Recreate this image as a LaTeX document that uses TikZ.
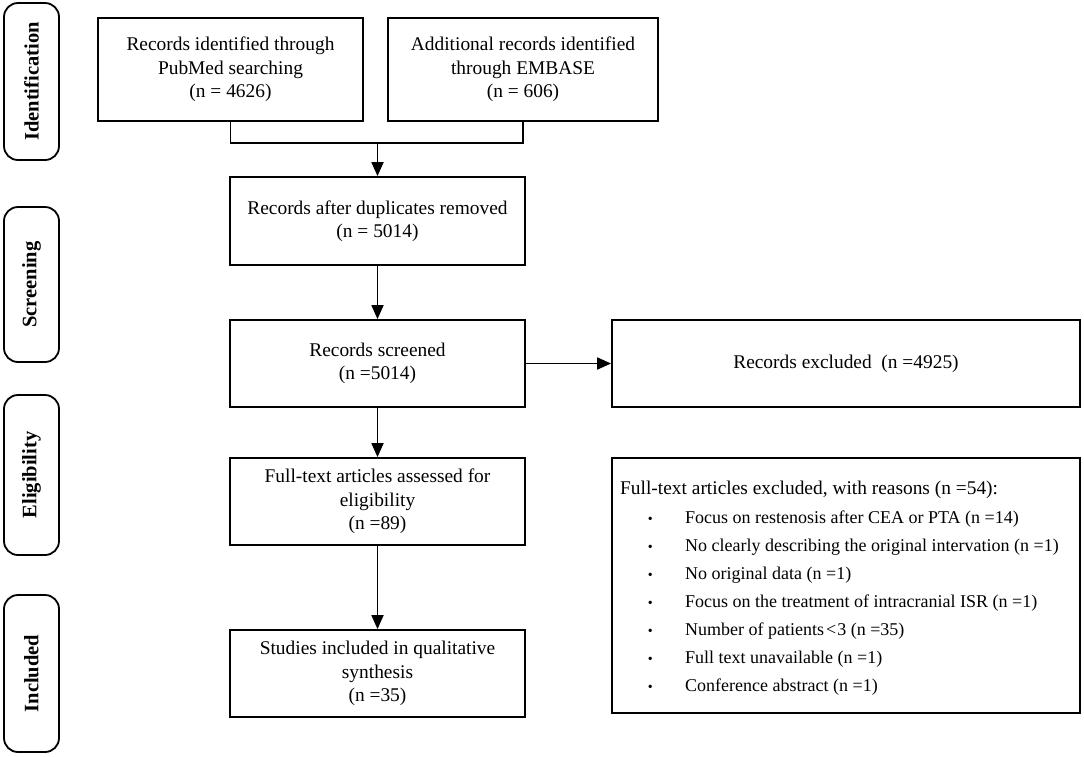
\documentclass[tikz,border=0pt]{standalone}
\usepackage{fontspec}
\setmainfont{Liberation Serif}
\usetikzlibrary{arrows.meta}
\begin{document}
\begin{tikzpicture}[x=1pt,y=-1pt,
  box/.style={draw, line width=1.8pt, rectangle, align=center, inner sep=0pt,
    font=\fontsize{19.4}{23.5}\selectfont},
  phase/.style={draw, line width=1.8pt, rounded corners=14pt, inner sep=0pt,
    minimum height=55pt, font=\bfseries\fontsize{20.5}{23}\selectfont, rotate=90},
  arr/.style={line width=1.8pt, -{Triangle[length=14pt,width=12pt]}},
  ln/.style={line width=1.8pt},
  item/.style={anchor=base west, inner sep=0pt, font=\fontsize{18}{22}\selectfont}]
\useasboundingbox (0,0) rectangle (1084,756);
% phase labels
\node[phase, minimum width=157pt] (pid) at (31.5,81.5) {Identification};
\node[phase, minimum width=155pt] (psc) at (31.5,284.5) {Screening};
\node[phase, minimum width=160pt] (pel) at (31.5,475) {Eligibility};
\node[phase, minimum width=157pt] (pin) at (31.5,673.5) {Included};
% boxes
\node[box, minimum width=265pt, minimum height=103pt] (b1) at (230.5,69.5)
  {Records identified through\\PubMed searching\\(n = 4626)};
\node[box, minimum width=270pt, minimum height=103pt] (b2) at (523,69.5)
  {Additional records identified\\through EMBASE\\(n = 606)};
\node[box, minimum width=295pt, minimum height=88pt] (b3) at (377.5,221)
  {Records after duplicates removed\\(n = 5014)};
\node[box, minimum width=295pt, minimum height=87pt] (b4) at (377.5,363.5)
  {Records screened\\(n =5014)};
\node[box, minimum width=468pt, minimum height=87pt] (b5) at (846,363.5)
  {Records excluded\ \ (n =4925)};
\node[box, minimum width=295pt, minimum height=87pt] (b6) at (377.5,501.5)
  {Full-text articles assessed for\\eligibility\\(n =89)};
\node[box, minimum width=295pt, minimum height=87pt] (b7) at (377.5,673.5)
  {Studies included in qualitative\\synthesis\\(n =35)};
\node[draw, line width=1.8pt, minimum width=468pt, minimum height=255pt, inner sep=0pt] (b8) at (846,585.5) {};
% exclusion reasons
\node[item, font=\fontsize{19.4}{23}\selectfont] (h0) at (620,494) {Full-text articles excluded, with reasons (n =54):};
\newcommand{\bul}{\makebox[16pt][c]{\fontsize{14}{14}\selectfont •}\hspace*{27pt}}
\node[item] (r1) at (642,523) {\bul Focus on restenosis after CEA or PTA (n =14)};
\node[item] (r2) at (642,551) {\bul No clearly describing the original intervation (n =1)};
\node[item] (r3) at (642,579) {\bul No original data (n =1)};
\node[item] (r4) at (642,607) {\bul Focus on the treatment of intracranial ISR (n =1)};
\node[item] (r5) at (642,635) {\bul Number of patients\hspace{2pt}<\hspace{1pt}3 (n =35)};
\node[item] (r6) at (642,663) {\bul Full text unavailable (n =1)};
\node[item] (r7) at (642,691) {\bul Conference abstract (n =1)};
% connectors
\coordinate (j) at (377.5,143);
\draw[ln] (b1.south) |- (j) -| (b2.south);
\draw[arr] (j) -- (b3.north);
\draw[arr] (b3) -- (b4);
\draw[arr] (b4) -- (b5);
\draw[arr] (b4) -- (b6);
\draw[arr] (b6) -- (b7);
\end{tikzpicture}
\end{document}
